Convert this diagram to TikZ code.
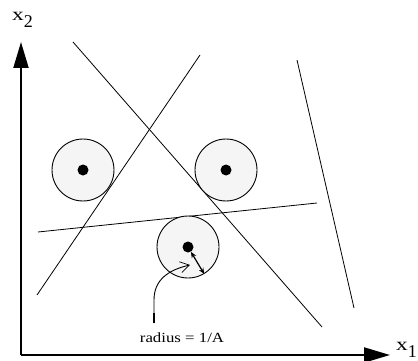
\documentclass[tikz,border=0pt]{standalone}
\usepackage{fontspec}
\setmainfont{Liberation Serif}
\usepackage{graphicx}
\usetikzlibrary{arrows.meta}

\newcommand{\axlabel}[1]{\scalebox{1.3}[1]{x}\raisebox{-7.5pt}{#1}}

\begin{document}
\begin{tikzpicture}[x=1pt, y=-1pt,
    >=Latex,
    axis/.style={line width=2pt, -{Triangle[length=26pt,width=15pt]}},
    cut/.style={line width=0.8pt},
    zone/.style={circle, draw, line width=0.9pt, fill=gray!8, minimum size=62pt, inner sep=0pt},
    centre/.style={circle, fill=black, minimum size=11pt, inner sep=0pt},
    lead/.style={line width=0.9pt, -{Straight Barb[length=9pt,width=11pt,line width=0.7pt]}},
    every node/.style={font=\fontsize{14}{16}\selectfont}
  ]
  \useasboundingbox (0,0) rectangle (418,361);
  \coordinate (O)  at (21,355);
  \coordinate (X1) at (390,355);
  \coordinate (X2) at (21,42);

  % axes
  \draw[axis] (O) -- (X1);
  \draw[axis] (O) -- (X2);
  \node[anchor=base west, inner sep=0pt, font=\fontsize{18}{20}\selectfont] (x1) at (396,350) {\axlabel{1}};
  \node[anchor=base west, inner sep=0pt, font=\fontsize{18}{20}\selectfont] (x2) at (12,20.5) {\axlabel{2}};

  % separating lines
  \draw[cut] (73,42)  -- (322,327);
  \draw[cut] (200,55) -- (37,295);
  \draw[cut] (38,232) -- (317,203);
  \draw[cut] (297,60) -- (354,308);

  % training points with their zones
  \node[zone]   (c1) at (83,170) {};
  \node[zone]   (c2) at (226,170) {};
  \node[zone]   (c3) at (188,247) {};
  \node[centre] (d1) at (c1) {};
  \node[centre] (d2) at (c2) {};
  \node[centre] (d3) at (c3) {};

  \draw[line width=1.2pt, {Stealth[length=6pt,width=5pt]}-{Stealth[length=6pt,width=5pt]}] (d3) -- (c3.-59);

  \node[anchor=base, inner sep=0pt] (lab) at (182,342) {\scalebox{1.2}[1]{radius = 1/A}};
  \coordinate (tail) at (154,323);
  \coordinate (tip)  at (190,265);
  \draw[line width=2.2pt] (tail) -- ++(0,-10);
  \draw[lead] (tail) -- (154,300) .. controls (154,280) and (168,270) .. (tip);
\end{tikzpicture}
\end{document}
